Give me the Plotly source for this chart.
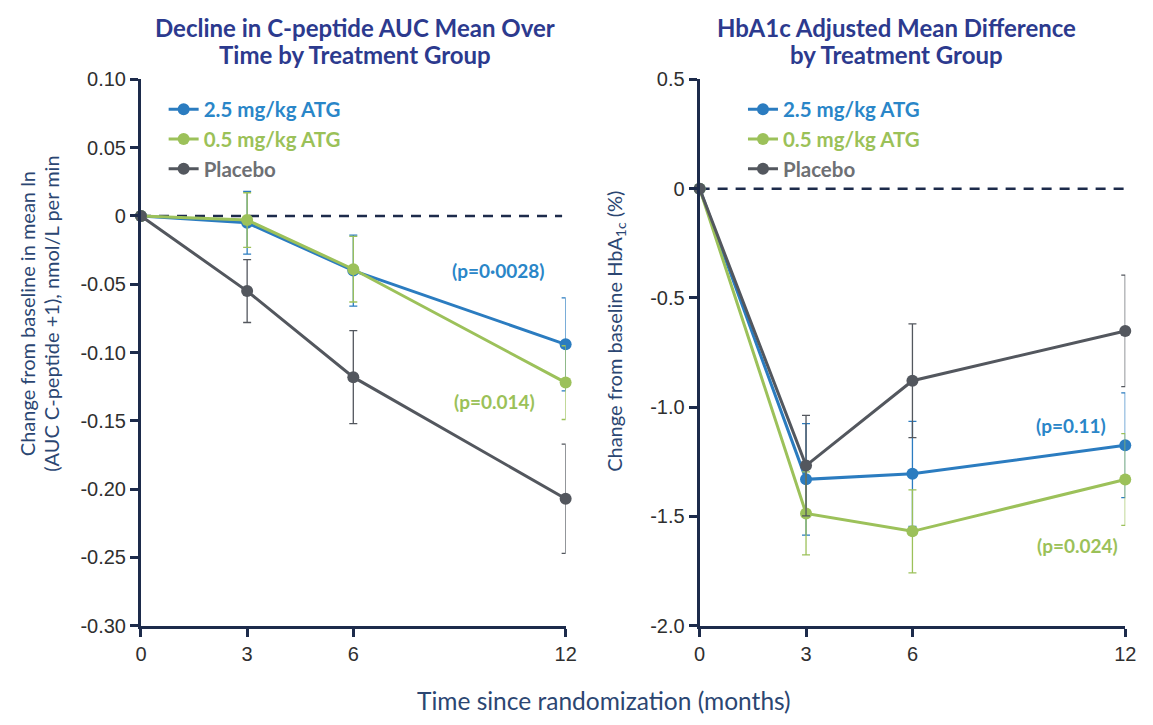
import plotly.graph_objects as go

# Visit months since randomization
months = [0, 3, 6, 12]

# Change from baseline in mean ln(AUC C-peptide + 1), nmol/L per min
cpep_atg25 = [0, -0.005, -0.040, -0.094]
cpep_atg25_err = [0, 0.023, 0.026, 0.034]
cpep_atg05 = [0, -0.003, -0.039, -0.122]
cpep_atg05_err = [0, 0.020, 0.024, 0.027]
cpep_placebo = [0, -0.055, -0.118, -0.207]
cpep_placebo_err = [0, 0.023, 0.034, 0.040]

# Change from baseline HbA1c (%)
hba1c_atg25 = [0, -1.33, -1.305, -1.174]
hba1c_atg25_err = [0, 0.255, 0.24, 0.24]
hba1c_atg05 = [0, -1.486, -1.568, -1.331]
hba1c_atg05_err = [0, 0.19, 0.19, 0.21]
hba1c_placebo = [0, -1.267, -0.879, -0.651]
hba1c_placebo_err = [0, 0.23, 0.26, 0.255]

group_names = ["2.5 mg/kg ATG", "0.5 mg/kg ATG", "Placebo"]

cpep_ticks = [0.10, 0.05, 0, -0.05, -0.10, -0.15, -0.20, -0.25, -0.30]
cpep_ticktext = ["0.10", "0.05", "0", "-0.05", "-0.10", "-0.15", "-0.20", "-0.25", "-0.30"]
hba1c_ticks = [0.5, 0, -0.5, -1.0, -1.5, -2.0]
hba1c_ticktext = ["0.5", "0", "-0.5", "-1.0", "-1.5", "-2.0"]

# p-values at month 12 versus placebo
cpep_pvals = ["(p=0·0028)", "(p=0.014)"]
hba1c_pvals = ["(p=0.11)", "(p=0.024)"]

LINE_COLORS = ["#2b7cc0", "#9cc15a", "#53575e"]
TEXT_COLORS = ["#2a86c8", "#9bc158", "#6e7074"]
AXIS_COLOR = "#1d2b4b"
TITLE_COLOR = "#2c3a8e"
YTITLE_COLOR = "#2b4672"
TICK_FONT = dict(family="Liberation Sans, Arial", size=20, color="#2f2f2f")
TEXT_FAMILY = "Lato, Open Sans, sans-serif"

# Canvas size; positions below are given in pixels and turned into paper fractions
W, H = 1153, 725


def px_x(v):
    return v / W


def px_y(v):
    return 1 - v / H


fig = go.Figure()


def add_group(x, y, err, idx, xa, ya, legend):
    fig.add_trace(go.Scatter(
        x=x, y=y, mode="lines+markers",
        name=f"<b><span style='color:{TEXT_COLORS[idx]}'>{group_names[idx]}</span></b>",
        line=dict(color=LINE_COLORS[idx], width=3),
        marker=dict(color=LINE_COLORS[idx], size=12),
        error_y=dict(type="data", array=err, visible=True,
                     color=LINE_COLORS[idx], thickness=1.3, width=4),
        xaxis=xa, yaxis=ya, legend=legend, showlegend=True,
        cliponaxis=False,
    ))


cpep_series = [(cpep_atg25, cpep_atg25_err), (cpep_atg05, cpep_atg05_err),
               (cpep_placebo, cpep_placebo_err)]
hba1c_series = [(hba1c_atg25, hba1c_atg25_err), (hba1c_atg05, hba1c_atg05_err),
                (hba1c_placebo, hba1c_placebo_err)]

for i, (vals, errs) in enumerate(cpep_series):
    add_group(months, vals, errs, i, "x", "y", "legend")
for i, (vals, errs) in enumerate(hba1c_series):
    add_group(months, vals, errs, i, "x2", "y2", "legend2")

axis_common = dict(
    showline=True, linecolor=AXIS_COLOR, linewidth=3,
    ticks="outside", ticklen=8, tickwidth=3, tickcolor=AXIS_COLOR,
    showgrid=False, zeroline=False, tickfont=TICK_FONT,
)

x_dom_left = [px_x(137), px_x(568)]
x_dom_right = [px_x(704), px_x(1136)]
y_dom = [px_y(634), px_y(70.5)]

legend_common = dict(xanchor="left", yanchor="top", bgcolor="rgba(0,0,0,0)",
                     font=dict(family=TEXT_FAMILY, size=20.5),
                     itemclick=False, tracegroupgap=0)

fig.update_layout(
    width=W, height=H, autosize=False,
    margin=dict(l=0, r=0, t=0, b=0),
    paper_bgcolor="white", plot_bgcolor="white",
    xaxis=dict(domain=x_dom_left, range=[0, 12], tickvals=months, anchor="y", **axis_common),
    yaxis=dict(domain=y_dom, range=[-0.30, 0.10], tickvals=cpep_ticks,
               ticktext=cpep_ticktext, anchor="x", **axis_common),
    xaxis2=dict(domain=x_dom_right, range=[0, 12], tickvals=months, anchor="y2", **axis_common),
    yaxis2=dict(domain=y_dom, range=[-2.0, 0.5], tickvals=hba1c_ticks,
                ticktext=hba1c_ticktext, anchor="x2", **axis_common),
    legend=dict(x=px_x(160), y=px_y(81), **legend_common),
    legend2=dict(x=px_x(748), y=px_y(81), **legend_common),
    hovermode=False,
)

# Dashed reference line at zero change
fig.add_shape(type="line", xref="x", yref="y", x0=0, x1=11.9, y0=0, y1=0,
              line=dict(color=AXIS_COLOR, width=2.5, dash="10px,8px"), layer="below")
fig.add_shape(type="line", xref="x2", yref="y2", x0=0, x1=12.4, y0=0, y1=0,
              line=dict(color=AXIS_COLOR, width=2.5, dash="10px,8px"), layer="below")


def paper_text(x, y, text, size, color, bold=False, angle=0):
    fig.add_annotation(x=px_x(x), y=px_y(y), xref="paper", yref="paper",
                       text=f"<b>{text}</b>" if bold else text,
                       textangle=angle, showarrow=False,
                       xanchor="center", yanchor="middle",
                       font=dict(family=TEXT_FAMILY, size=size, color=color))


# Panel titles
paper_text(354, 17, "Decline in C-peptide AUC Mean Over", 24, TITLE_COLOR, bold=True)
paper_text(354, 45, "Time by Treatment Group", 24, TITLE_COLOR, bold=True)
paper_text(904, 17, "HbA1c Adjusted Mean Difference", 24, TITLE_COLOR, bold=True)
paper_text(904, 45, "by Treatment Group", 24, TITLE_COLOR, bold=True)

# Axis titles
paper_text(21, 312, "Change from baseline in mean ln", 20, YTITLE_COLOR, angle=-90)
paper_text(45, 312, "(AUC C-peptide +1), nmol/L per min", 20, YTITLE_COLOR, angle=-90)
paper_text(619, 330, "Change from baseline HbA<sub>1c</sub> (%)", 20, YTITLE_COLOR, angle=-90)
paper_text(607, 711, "Time since randomization (months)", 24.5, YTITLE_COLOR)

# p-value labels
pval_font = dict(family=TEXT_FAMILY, size=19)
fig.add_annotation(x=10.1, y=-0.040, xref="x", yref="y", text=f"<b>{cpep_pvals[0]}</b>",
                   showarrow=False, font=dict(color=TEXT_COLORS[0], **pval_font))
fig.add_annotation(x=10.0, y=-0.136, xref="x", yref="y", text=f"<b>{cpep_pvals[1]}</b>",
                   showarrow=False, font=dict(color=TEXT_COLORS[1], **pval_font))
fig.add_annotation(x=10.47, y=-1.084, xref="x2", yref="y2", text=f"<b>{hba1c_pvals[0]}</b>",
                   showarrow=False, font=dict(color=TEXT_COLORS[0], **pval_font))
fig.add_annotation(x=10.64, y=-1.634, xref="x2", yref="y2", text=f"<b>{hba1c_pvals[1]}</b>",
                   showarrow=False, font=dict(color=TEXT_COLORS[1], **pval_font))

fig.write_html("out.html")
